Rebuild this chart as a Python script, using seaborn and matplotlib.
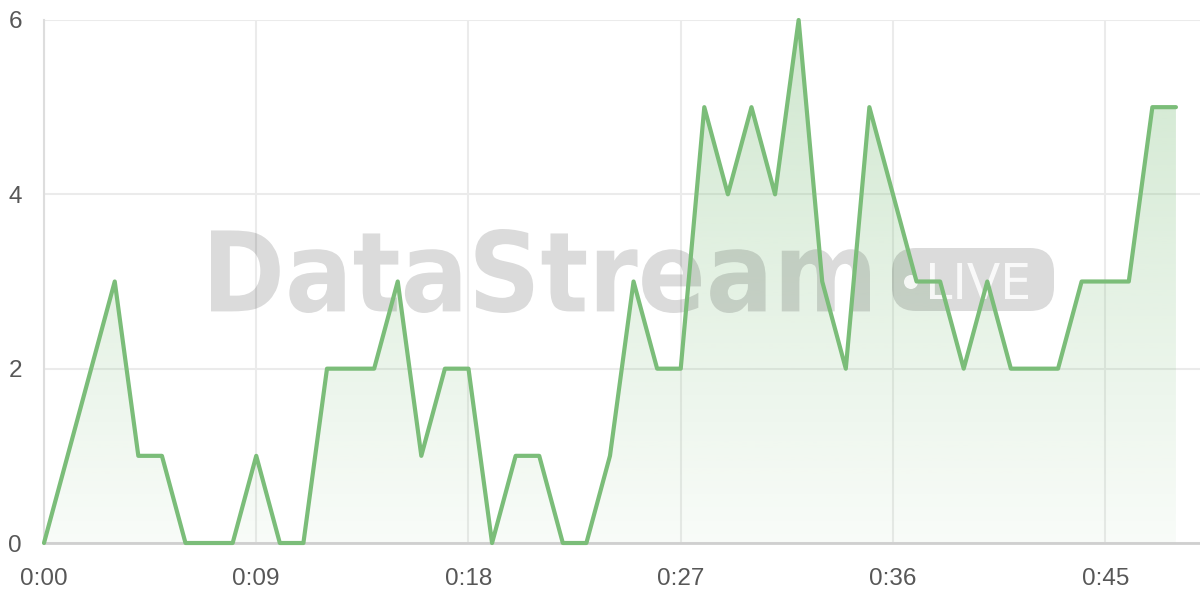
import matplotlib
matplotlib.use("Agg")
import matplotlib.pyplot as plt
import seaborn as sns
import numpy as np
from matplotlib.textpath import TextPath
from matplotlib.font_manager import FontProperties
from matplotlib.patches import PathPatch, FancyBboxPatch, Circle, Polygon
from matplotlib.path import Path
from matplotlib import transforms

# dados
minutes = list(range(49))
viewers = [0, 1, 2, 3, 1, 1, 0, 0, 0, 1, 0, 0, 2, 2, 2, 3, 1, 2, 2, 0,
           1, 1, 0, 0, 1, 3, 2, 2, 5, 4, 5, 4, 6, 3, 2, 5, 4, 3, 3, 2,
           3, 2, 2, 2, 3, 3, 3, 5, 5]
x_ticks = [0, 9, 18, 27, 36, 45]
x_labels = ["0:00", "0:09", "0:18", "0:27", "0:36", "0:45"]
y_ticks = [0, 2, 4, 6]

green = "#7bbd79"
green_rgb = matplotlib.colors.to_rgb(green)

sns.set_theme(style="white")
plt.rcParams["font.family"] = ["Liberation Sans", "DejaVu Sans"]

fig = plt.figure(figsize=(12, 6), dpi=100)
ax = fig.add_axes([44 / 1200, 57 / 600, 1156 / 1200, 523 / 600])

# preenchimento em degrade
grad = np.linspace(0.05, 0.36, 256)
rgba = np.zeros((256, 1, 4))
rgba[..., :3] = green_rgb
rgba[..., 3] = grad[:, None]
im = ax.imshow(rgba, extent=[minutes[0], minutes[-1], 0, 6], origin="lower",
               aspect="auto", zorder=1, interpolation="bilinear")
poly = Polygon(np.column_stack([[minutes[0]] + minutes + [minutes[-1]],
                                [0] + viewers + [0]]),
               closed=True, transform=ax.transData)
im.set_clip_path(poly)

# linha
sns.lineplot(x=minutes, y=viewers, ax=ax, color=green, linewidth=3,
             zorder=4, clip_on=False)

ax.set_xlim(0, 49.02)
ax.set_ylim(0, 6)
ax.set_xticks(x_ticks)
ax.set_xticklabels(x_labels)
ax.set_yticks(y_ticks)
ax.grid(True, color="#ebebeb", linewidth=1.5)
ax.set_axisbelow(True)
ax.tick_params(axis="both", length=11, width=1.5, color="#e6e6e6",
               labelsize=17.5, labelcolor="#575757", pad=5)
ax.tick_params(axis="x", pad=7)
for s in ["top", "right"]:
    ax.spines[s].set_visible(False)
ax.spines["left"].set_color("#dddddd")
ax.spines["left"].set_linewidth(1.5)
ax.spines["bottom"].set_color("#cfcfcf")
ax.spines["bottom"].set_linewidth(2)

# marca d'agua (coordenadas em pixels a partir do topo)
px = transforms.Affine2D().scale(1 / 1200, -1 / 600).translate(0, 1) + fig.transFigure


def text_in_box(txt, box, weight, color, z):
    tp = TextPath((0, 0), txt, size=100,
                  prop=FontProperties(family="DejaVu Sans", weight=weight))
    ext = tp.get_extents()
    v = tp.vertices.copy()
    x0, y0, x1, y1 = box
    v[:, 0] = x0 + (v[:, 0] - ext.x0) / ext.width * (x1 - x0)
    v[:, 1] = y1 - (v[:, 1] - ext.y0) / ext.height * (y1 - y0)
    p = PathPatch(Path(v, tp.codes), transform=px, facecolor=color,
                  edgecolor="none", zorder=z, clip_on=False)
    ax.add_patch(p)


wm = (0, 0, 0, 0.14)
text_in_box("DataStream", (211, 229, 870, 313), "bold", wm, 2)
pill = FancyBboxPatch((892, 248), 162, 63,
                      boxstyle="round,pad=0,rounding_size=24",
                      transform=px, facecolor=wm, edgecolor="none",
                      zorder=2, clip_on=False)
ax.add_patch(pill)
ax.add_patch(Circle((911, 282), 7, transform=px, facecolor=(1, 1, 1, 0.85),
                    edgecolor="none", zorder=3, clip_on=False))
text_in_box("LIVE", (930, 263, 1028, 299), "normal", (1, 1, 1, 0.85), 3)

fig.savefig("out.png", dpi=100)
